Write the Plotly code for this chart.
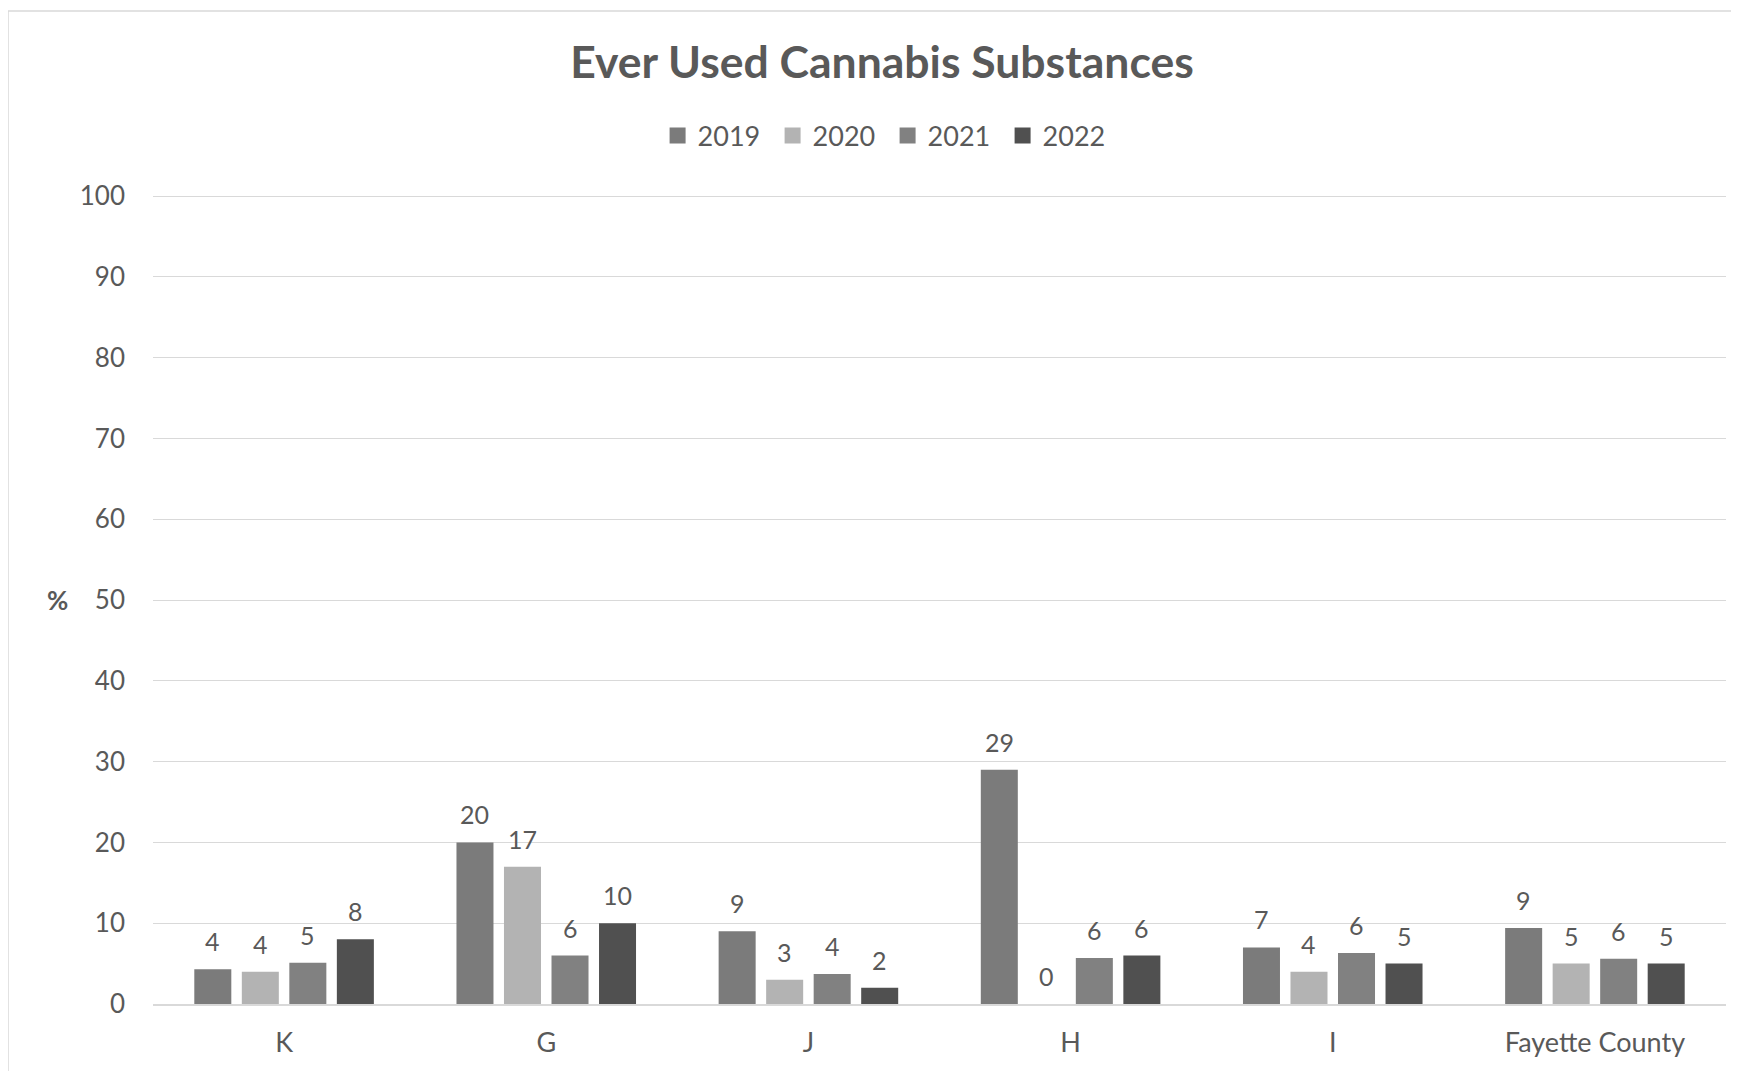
import plotly.graph_objects as go

categories = ["K", "G", "J", "H", "I", "Fayette County"]
years = ["2019", "2020", "2021", "2022"]
v2019 = [4.3, 20.0, 9.0, 29.0, 7.0, 9.4]
v2020 = [4.0, 17.0, 3.0, 0.0, 4.0, 5.0]
v2021 = [5.1, 6.0, 3.7, 5.7, 6.3, 5.6]
v2022 = [8.0, 10.0, 2.0, 6.0, 5.0, 5.0]
series = [v2019, v2020, v2021, v2022]
colors = ["#7b7b7b", "#b3b3b3", "#818181", "#505050"]
yticks = [0, 10, 20, 30, 40, 50, 60, 70, 80, 90, 100]

FONT = "Lato"
TXT = "#595959"

# page body has an 8px margin; figure sized to fit the window
W, H = 1731, 1063
L, T = 145, 172
PW, PH = 1573, 824
R, B = W - L - PW, H - T - PH
YMAX = 102

BARGAP = 0.275
GROUPGAP = 0.221
slot = PW / len(categories) * (1 - BARGAP) / len(years)

fig = go.Figure()
for name, vals, col in zip(years, series, colors):
    fig.add_trace(go.Bar(
        name=name, x=categories, y=vals, legendgroup=name, showlegend=False,
        marker=dict(color=col, line=dict(width=0)),
    ))
for name, col in zip(years, colors):
    fig.add_trace(go.Scatter(
        name=name, x=[None], y=[None], mode="markers", legendgroup=name,
        marker=dict(symbol="square", size=19, color=col),
    ))

annotations = []
for i, vals in enumerate(series):
    for cat, v in zip(categories, vals):
        annotations.append(dict(
            x=cat, y=v, xref="x", yref="y",
            text=f"{v:.0f}", showarrow=False,
            xshift=(i - 1.5) * slot, yshift=28,
            yanchor="middle", xanchor="center",
            font=dict(family=FONT, size=25, color=TXT),
        ))
annotations.append(dict(
    x=(57 - 153) / 1573, y=50, xref="paper", yref="y", text="<b>%</b>",
    showarrow=False, xanchor="center", yanchor="middle",
    font=dict(family=FONT, size=26, color=TXT),
))

leg_y = (T + PH - (136 - 8)) / PH
fig.update_layout(
    width=W, height=H,
    paper_bgcolor="white", plot_bgcolor="white",
    margin=dict(l=L, r=R, t=T, b=B),
    barmode="group", bargap=BARGAP, bargroupgap=GROUPGAP,
    title=dict(text="<b>Ever Used Cannabis Substances</b>",
               x=874 / W, xanchor="center", y=1 - 54 / H, yanchor="middle",
               font=dict(family=FONT, size=44.5, color=TXT)),
    legend=dict(orientation="h", x=0.467, xanchor="center", y=leg_y, yanchor="middle",
                font=dict(family=FONT, size=27, color=TXT), traceorder="normal",
                itemwidth=30, entrywidth=70, entrywidthmode="pixels"),
    xaxis=dict(showgrid=False, showline=True, linecolor="#d9d9d9", linewidth=1.5,
               ticks="", ticklabelstandoff=14,
               tickfont=dict(family=FONT, size=27, color=TXT)),
    yaxis=dict(range=[0, YMAX], tickvals=yticks, showgrid=True, gridcolor="#d9d9d9",
               gridwidth=1, zeroline=False, showline=False, ticks="",
               ticklabelstandoff=27,
               tickfont=dict(family=FONT, size=26, color=TXT)),
    annotations=annotations,
    shapes=[dict(type="rect", xref="paper", yref="paper",
                 x0=(8 - 153) / 1573, x1=1.3, y0=-0.3, y1=(T + PH - 3) / PH,
                 line=dict(color="#d9d9d9", width=1.5), layer="below")],
)

fig.write_html("out.html")
